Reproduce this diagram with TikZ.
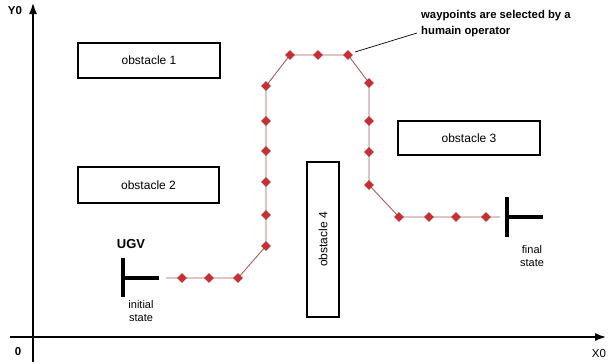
\documentclass[tikz,border=0pt]{standalone}
\usepackage{fontspec}
\setmainfont{Liberation Sans}
\usetikzlibrary{shapes.geometric,arrows.meta,backgrounds}
\definecolor{wpred}{RGB}{196,48,52}
\definecolor{pathred}{RGB}{170,90,90}
\tikzset{
  obst/.style={draw=black,line width=2.7pt,fill=white,minimum width=#1,inner sep=0pt},
  obstlabel/.style={font=\fontsize{12}{14}\selectfont},
  wp/.style={shape=diamond,fill=wpred,draw=none,minimum size=10pt,inner sep=0pt},
  pathline/.style={draw=pathred,line width=0.9pt},
  axis/.style={line width=2.5pt,-{Latex[length=12pt,width=8pt]}},
  tbar/.style={line width=4.2pt},
  small/.style={font=\fontsize{11}{13}\selectfont,align=center},
}
\begin{document}
\begin{tikzpicture}[x=1pt,y=-1pt]
\useasboundingbox (0,0) rectangle (608,364);
% axes
\coordinate (xs) at (10,337);
\coordinate (xe) at (607,337);
\coordinate (ys) at (33,362);
\coordinate (ye) at (33,2);
\draw[axis] (xs) -- (xe);
\draw[axis] (ys) -- (ye);
\node[font=\bfseries\fontsize{11.5}{13}\selectfont] (ylab) at (15,11) {Y0};
\node[font=\bfseries\fontsize{11.5}{13}\selectfont] (zero) at (18,352) {0};
\node[font=\fontsize{11.5}{13}\selectfont] (xlab) at (599,354) {X0};
% obstacles
\node[obst,minimum width=142pt,minimum height=35pt,obstlabel] (o1) at (149,60.5) {obstacle 1};
\node[obst,minimum width=141pt,minimum height=36pt,obstlabel] (o2) at (148.5,185) {obstacle 2};
\node[obst,minimum width=142pt,minimum height=34pt,obstlabel] (o3) at (469,138) {obstacle 3};
\node[draw=black,line width=2.7pt,minimum width=155pt,minimum height=32pt,inner sep=0pt,rotate=90,obstlabel] (o4) at (323,239.5) {obstacle 4};
% waypoints
\node[wp] (w1) at (182,278) {};
\node[wp] (w2) at (209,278) {};
\node[wp] (w3) at (238,278) {};
\node[wp] (w4) at (266,246) {};
\node[wp] (w5) at (266,215) {};
\node[wp] (w6) at (266,182) {};
\node[wp] (w7) at (266,151) {};
\node[wp] (w8) at (266,121) {};
\node[wp] (w9) at (266,86) {};
\node[wp] (w10) at (290,55) {};
\node[wp] (w11) at (318,55) {};
\node[wp] (w12) at (348,55) {};
\node[wp] (w13) at (369,83) {};
\node[wp] (w14) at (369,121) {};
\node[wp] (w15) at (369,152) {};
\node[wp] (w16) at (369,185) {};
\node[wp] (w17) at (399,217) {};
\node[wp] (w18) at (429,217) {};
\node[wp] (w19) at (456,217) {};
\node[wp] (w20) at (486,217) {};
\coordinate (ps) at (166,278);
\coordinate (pe) at (500,217);
\begin{scope}[on background layer]
\draw[pathline] (ps) -- (w1.center) -- (w2.center) -- (w3.center) -- (w4.center) -- (w5.center) -- (w6.center) -- (w7.center) -- (w8.center) -- (w9.center) -- (w10.center) -- (w11.center) -- (w12.center) -- (w13.center) -- (w14.center) -- (w15.center) -- (w16.center) -- (w17.center) -- (w18.center) -- (w19.center) -- (w20.center) -- (pe);
\end{scope}
% initial state
\coordinate (it) at (123,258);
\coordinate (ib) at (123,297);
\coordinate (im) at (123,278);
\coordinate (ir) at (159,278);
\draw[tbar] (it) -- (ib);
\draw[tbar] (im) -- (ir);
\node[font=\bfseries\fontsize{13}{15}\selectfont] (ugv) at (131,244) {UGV};
\node[small] (init) at (141,311) {initial\\state};
% final state
\coordinate (ft) at (507,197);
\coordinate (fb) at (507,237);
\coordinate (fm) at (507,217);
\coordinate (fr) at (543,217);
\draw[tbar] (ft) -- (fb);
\draw[tbar] (fm) -- (fr);
\node[small] (fin) at (532,256) {final\\state};
% annotation
\node[font=\bfseries\fontsize{11.3}{16}\selectfont,align=left,anchor=north west,inner sep=0pt] (note) at (421,10) {waypoints are selected by a\\humain operator};
\coordinate (la) at (355,52);
\coordinate (lb) at (417,33);
\draw[line width=0.7pt] (la) -- (lb);
\end{tikzpicture}
\end{document}
